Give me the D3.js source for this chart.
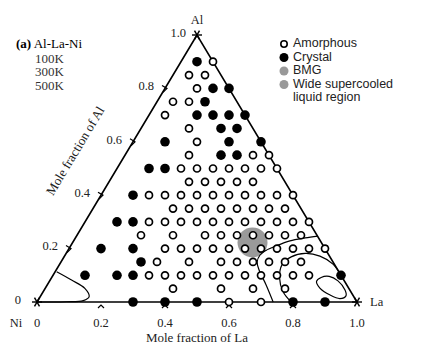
<!DOCTYPE html>
<html><head><meta charset="utf-8">
<script src="https://cdn.jsdelivr.net/npm/d3@7"></script>
<style>body{margin:0;background:#fff}svg{display:block}</style>
</head><body>
<svg id="c" width="433" height="346"></svg>
<script>
// Compositions as [Al fraction, list of La fractions]
const amorphousRows = [
  [0.90, [0.10]],
  [0.85, [0.05, 0.10]],
  [0.80, [0.10]],
  [0.75, [0.05, 0.10]],
  [0.70, [0.05]],
  [0.65, [0.15]],
  [0.60, [0.20]],
  [0.55, [0.20, 0.40, 0.45]],
  [0.50, [0.20, 0.25, 0.30, 0.35, 0.40, 0.45, 0.50]],
  [0.45, [0.25, 0.30, 0.35, 0.40, 0.45]],
  [0.40, [0.15, 0.20, 0.25, 0.30, 0.35, 0.40, 0.45, 0.50, 0.55, 0.60]],
  [0.35, [0.25, 0.30, 0.35, 0.40, 0.45, 0.50, 0.55, 0.60]],
  [0.30, [0.20, 0.25, 0.30, 0.35, 0.40, 0.45, 0.50, 0.55, 0.60, 0.65, 0.70]],
  [0.25, [0.20, 0.30, 0.40, 0.45, 0.50, 0.55, 0.60, 0.65, 0.70]],
  [0.20, [0.30, 0.35, 0.40, 0.45, 0.50, 0.55, 0.60, 0.65, 0.70, 0.75, 0.80]],
  [0.15, [0.30, 0.40, 0.50, 0.55, 0.60, 0.65, 0.70, 0.75]],
  [0.10, [0.30, 0.35, 0.40, 0.45, 0.50, 0.55, 0.60, 0.65, 0.70, 0.75, 0.80]],
  [0.05, [0.40, 0.55, 0.65, 0.75]],
  [0.00, [0.60, 0.70]]
];
const crystalRows = [
  [0.90, [0.05]],
  [0.80, [0.15, 0.20]],
  [0.75, [0.15]],
  [0.70, [0.15, 0.20, 0.25, 0.30]],
  [0.65, [0.25, 0.30]],
  [0.60, [0.10, 0.30, 0.40]],
  [0.55, [0.30, 0.35]],
  [0.50, [0.10, 0.15]],
  [0.40, [0.10]],
  [0.30, [0.10, 0.15]],
  [0.20, [0.10, 0.20]],
  [0.15, [0.25]],
  [0.10, [0.10, 0.20, 0.25, 0.90]],
  [0.00, [0.30, 0.40, 0.50, 0.80, 0.90]]
];
// Wide supercooled liquid region marker [Al, La]
const wideSCLR = [[0.223, 0.562]];
// Contour lines as [Al, La] points
const contour100 = [[0.113,0.005],[0.082,0.067],[0.051,0.124],[0.020,0.153],[0.005,0.142],[0.001,0.092],[0,0.040],[0,0.010]];
const contour300 = [[0,0.738],[0.064,0.684],[0.120,0.634],[0.150,0.613],[0.176,0.609],[0.193,0.619],[0.210,0.642],[0.229,0.676],[0.240,0.718],[0.247,0.754]];
const contour500a = [[0,0.794],[0.038,0.750],[0.090,0.713],[0.139,0.696],[0.169,0.710],[0.182,0.747],[0.172,0.798],[0.142,0.854],[0.097,0.903]];
const contour500b = [[0.077,0.835],[0.092,0.842],[0.096,0.865],[0.079,0.901],[0.045,0.940],[0.023,0.954],[0.013,0.940],[0.026,0.903],[0.052,0.858]];
const tickValues = [0, 0.2, 0.4, 0.6, 0.8, 1.0];
const tickLabels = ["0", "0.2", "0.4", "0.6", "0.8", "1.0"];
const cornerNames = ["Al", "Ni", "La"];
const legendItems = ["Amorphous", "Crystal", "BMG", "Wide supercooled", "liquid region"];
const tempLabels = ["100K", "300K", "500K"];

const svg = d3.select("#c");
const X = d3.scaleLinear().domain([0, 1]).range([37, 357]);
const Y = d3.scaleLinear().domain([0, 1]).range([302, 35]);
const P = (al, la) => [X(la + al / 2), Y(al)];
const flat = rows => rows.flatMap(([al, las]) => las.map(la => [al, la]));
const serif = "'Liberation Serif', 'Times New Roman', serif";
const sans = "'Liberation Sans', Arial, sans-serif";

// triangle
const corners = [P(1, 0), P(0, 0), P(0, 1)];
svg.append("path").attr("d", d3.line()(corners) + "Z")
  .attr("fill", "none").attr("stroke", "#000").attr("stroke-width", 1.6);

// grey wide SCLR region
svg.selectAll("circle.scl").data(wideSCLR).join("circle")
  .attr("cx", d => P(d[0], d[1])[0]).attr("cy", d => P(d[0], d[1])[1])
  .attr("r", 15).attr("fill", "#9a9a9a");

// contours
const cl = d3.line().x(d => P(d[0], d[1])[0]).y(d => P(d[0], d[1])[1]);
[contour100, contour300, contour500a].forEach(c => {
  svg.append("path").attr("d", cl.curve(d3.curveCatmullRom)(c))
    .attr("fill", "none").attr("stroke", "#000").attr("stroke-width", 1.2);
});
svg.append("path").attr("d", cl.curve(d3.curveCatmullRomClosed)(contour500b))
  .attr("fill", "none").attr("stroke", "#000").attr("stroke-width", 1.2);

// ticks (chevrons)
const tk = svg.append("g").attr("stroke", "#000").attr("stroke-width", 1.2).attr("fill", "none");
tickValues.slice(1, 5).forEach(v => {
  const [lx, ly] = P(v, 0);
  tk.append("path").attr("d", `M${lx - 3},${ly - 3}L${lx + 2},${ly}L${lx - 2},${ly + 4}`);
  const [bx, by] = P(0, v);
  tk.append("path").attr("d", `M${bx - 3},${by + 6}L${bx},${by + 3}L${bx + 3},${by + 6}`);
  const [rx, ry] = P(v, 1 - v);
  tk.append("path").attr("d", `M${rx + 3},${ry - 3}L${rx - 2},${ry}L${rx + 2},${ry + 4}`);
});
// corner asterisks
corners.forEach(([cx, cy]) => {
  [0, 60, 120].forEach(a => {
    const r = 5, t = a * Math.PI / 180;
    tk.append("line").attr("x1", cx - r * Math.cos(t)).attr("y1", cy - r * Math.sin(t))
      .attr("x2", cx + r * Math.cos(t)).attr("y2", cy + r * Math.sin(t)).attr("stroke-width", 1.4);
  });
});

// points
svg.selectAll("circle.am").data(flat(amorphousRows)).join("circle")
  .attr("cx", d => P(d[0], d[1])[0]).attr("cy", d => P(d[0], d[1])[1])
  .attr("r", 3.5).attr("fill", "#fff").attr("stroke", "#000").attr("stroke-width", 1.7);
svg.selectAll("circle.cr").data(flat(crystalRows)).join("circle")
  .attr("cx", d => P(d[0], d[1])[0]).attr("cy", d => P(d[0], d[1])[1])
  .attr("r", 4.8).attr("fill", "#000");

// tick labels
const tl = svg.append("g").attr("font-family", serif).attr("font-size", 12.5).attr("fill", "#222");
tickValues.forEach((v, i) => {
  const [lx, ly] = P(v, 0);
  tl.append("text").attr("x", lx - (i === 0 ? 16 : 11)).attr("y", ly - 1).attr("text-anchor", "end")
    .attr("dominant-baseline", "middle").text(tickLabels[i]);
  const [bx, by] = P(0, v);
  tl.append("text").attr("x", bx).attr("y", by + 25).attr("text-anchor", "middle").text(tickLabels[i]);
});
// corner names
tl.append("text").attr("x", corners[0][0]).attr("y", corners[0][1] - 11).attr("text-anchor", "middle").text(cornerNames[0]);
tl.append("text").attr("x", corners[1][0] - 21).attr("y", corners[1][1] + 25).attr("text-anchor", "middle").text(cornerNames[1]);
tl.append("text").attr("x", corners[2][0] + 13).attr("y", corners[2][1] + 4).text(cornerNames[2]);
// axis titles
tl.append("text").attr("x", X(0.5)).attr("y", 342).attr("text-anchor", "middle").attr("font-size", 13).text("Mole fraction of La");
tl.append("text").attr("transform", "translate(79,153) rotate(-59)").attr("text-anchor", "middle").attr("font-size", 13).text("Mole fraction of Al");

// panel title and temperatures
svg.append("text").attr("x", 16).attr("y", 48).attr("font-family", serif).attr("font-size", 13)
  .html("<tspan font-weight='bold'>(a)</tspan> Al-La-Ni");
tempLabels.forEach((t, i) => {
  svg.append("text").attr("x", 35).attr("y", 62.5 + i * 13.5).attr("font-family", serif)
    .attr("font-size", 13).attr("fill", "#333").text(t);
});

// legend
const lg = svg.append("g").attr("font-family", sans).attr("font-size", 12.5).attr("fill", "#222");
const ly0 = 44, ldy = 13.5, lx0 = 284;
legendItems.forEach((t, i) => {
  lg.append("text").attr("x", lx0 + 9).attr("y", ly0 + i * ldy).attr("dominant-baseline", "middle").text(t);
});
lg.append("circle").attr("cx", lx0).attr("cy", ly0).attr("r", 3.2).attr("fill", "#fff").attr("stroke", "#000").attr("stroke-width", 1.6);
lg.append("circle").attr("cx", lx0).attr("cy", ly0 + ldy).attr("r", 4.5).attr("fill", "#000");
lg.append("circle").attr("cx", lx0).attr("cy", ly0 + 2 * ldy).attr("r", 4.5).attr("fill", "#999");
lg.append("circle").attr("cx", lx0).attr("cy", ly0 + 3 * ldy).attr("r", 4.5).attr("fill", "#999");
</script>
</body></html>
